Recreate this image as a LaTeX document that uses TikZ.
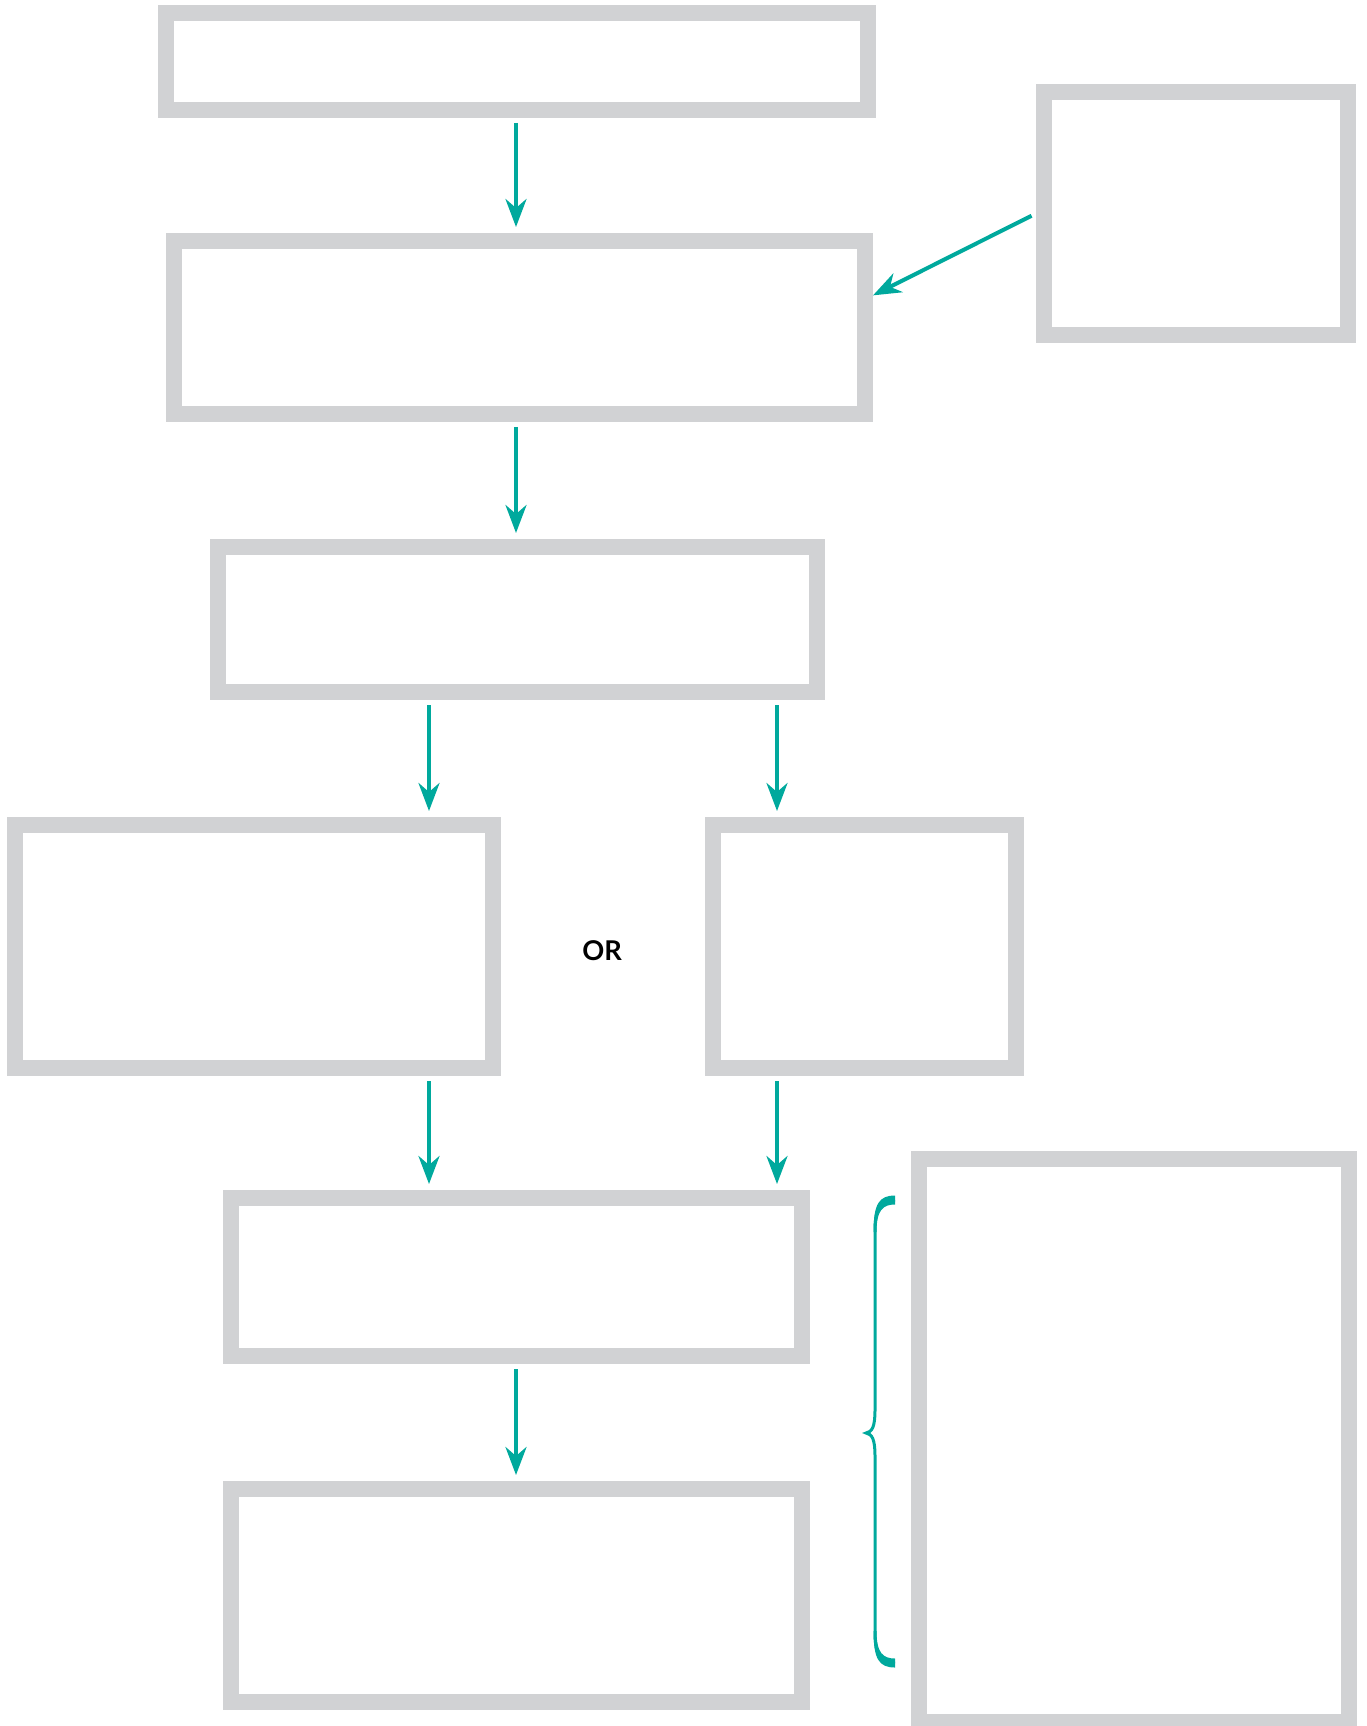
\documentclass[tikz,border=0pt]{standalone}
\usepackage{fontspec}
\setmainfont{Lato}
\usepackage{xcolor}
\usepackage{tikz}
\usetikzlibrary{arrows.meta,calc}
\definecolor{boxgray}{HTML}{D1D2D4}
\definecolor{flowteal}{HTML}{00A99D}
\newcommand{\pxu}{0.02cm}

\begin{document}
\begin{tikzpicture}[x=0.02cm, y=-0.02cm,
    box/.style={draw=boxgray, line width=0.32cm, inner sep=0pt},
    flow/.style={-{Stealth[length=0.56cm, width=0.42cm, inset=0.18cm]}, draw=flowteal, line width=0.08cm, shorten <=0.1cm, shorten >=0.12cm}]
    \useasboundingbox (0,0) rectangle (1366,1726);

    \node[box, minimum width=702*\pxu, minimum height=97*\pxu] (top) at (517,61.5) {};
    \node[box, minimum width=691*\pxu, minimum height=173*\pxu] (main) at (519.5,327.5) {};
    \node[box, minimum width=304*\pxu, minimum height=243*\pxu] (extra) at (1196,213.5) {};
    \node[box, minimum width=599*\pxu, minimum height=145*\pxu] (choice) at (517.5,619.5) {};
    \node[box, minimum width=478*\pxu, minimum height=243*\pxu] (optleft) at (254,946.5) {};
    \node[box, minimum width=303*\pxu, minimum height=243*\pxu] (optright) at (864.5,946.5) {};
    \node[box, minimum width=571*\pxu, minimum height=158*\pxu] (stage) at (516.5,1277) {};
    \node[box, minimum width=571*\pxu, minimum height=213*\pxu] (final) at (516.5,1595.5) {};
    \node[box, minimum width=430*\pxu, minimum height=563*\pxu] (note) at (1134,1440.5) {};

    \node[font=\bfseries\fontsize{15.5}{18}\selectfont] (or) at (602,951) {OR};

    \coordinate (mid) at (516,0);
    \coordinate (lcol) at (429,0);
    \coordinate (rcol) at (777,0);

    \draw[flow] (top.south -| mid) -- (main.north -| mid);
    \draw[flow, shorten >=0pt] (extra.west) -- ($(main.north east)!0.33!(main.south east)$);
    \draw[flow] (main.south -| mid) -- (choice.north -| mid);
    \draw[flow] (choice.south -| lcol) -- (optleft.north -| lcol);
    \draw[flow] (choice.south -| rcol) -- (optright.north -| rcol);
    \draw[flow] (optleft.south -| lcol) -- (stage.north -| lcol);
    \draw[flow] (optright.south -| rcol) -- (stage.north -| rcol);
    \draw[flow] (stage.south -| mid) -- (final.north -| mid);

    % brace next to the last two steps
    \draw[flowteal, line width=0.06cm]
        (895,1200) .. controls (881,1200) and (875,1206) .. (875,1232) -- (875,1410)
        .. controls (875,1427) and (872,1432) .. (866,1433)
        .. controls (872,1434) and (875,1439) .. (875,1456) -- (875,1631)
        .. controls (875,1657) and (881,1663) .. (895,1663);
    \fill[flowteal] (895,1195.5) .. controls (879,1195.5) and (873.5,1204) .. (873.5,1232)
        -- (876.5,1232) .. controls (876.5,1210) and (883,1204.5) .. (895,1204.5) -- cycle;
    \fill[flowteal] (895,1667.5) .. controls (879,1667.5) and (873.5,1659) .. (873.5,1631)
        -- (876.5,1631) .. controls (876.5,1653) and (883,1658.5) .. (895,1658.5) -- cycle;
\end{tikzpicture}
\end{document}
